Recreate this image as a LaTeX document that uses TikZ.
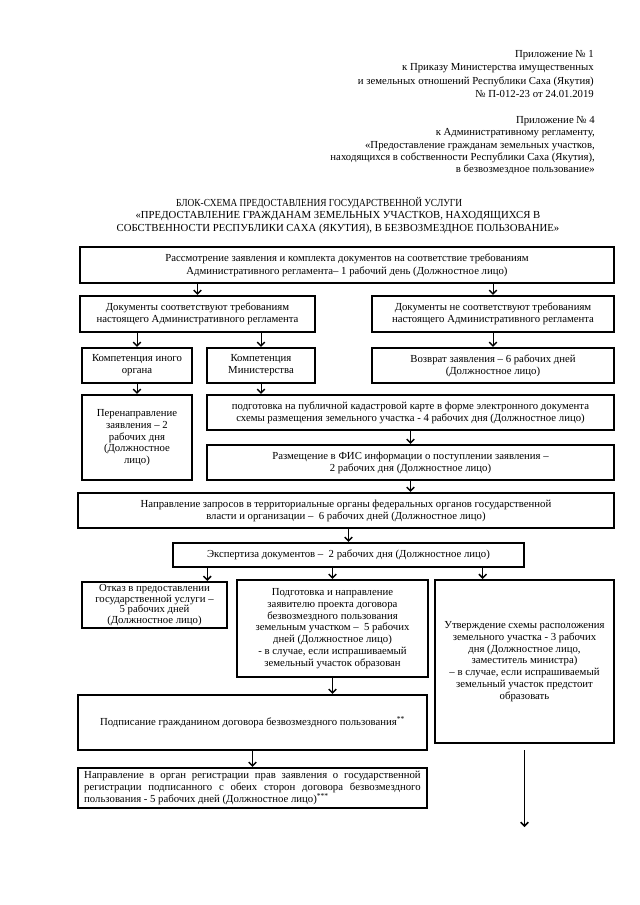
\documentclass[tikz,border=0pt]{standalone}
\usepackage{fontspec}
\usepackage{graphicx}
\setmainfont{Liberation Serif}
\usetikzlibrary{calc, arrows.meta}

\newcommand{\pxu}{0.9301pt}

\tikzset{
    box/.style={draw, line width=1.9pt, align=center, inner sep=2pt},
    arr/.style={line width=0.7pt, -{Straight Barb[length=3.5pt, width=7pt, line width=1.4pt]}}
}

\begin{document}
\begin{tikzpicture}[x=0.9301pt, y=-0.9301pt,
    every node/.style={font=\fontsize{10pt}{11pt}\selectfont}]

    % Page frame (A4 in pixels of the scan)
    \useasboundingbox (0,0) rectangle (640,905);

    % --- Header ---
    \node[align=right, anchor=north east, inner sep=0pt, font=\fontsize{10pt}{12.5pt}\selectfont] (order) at (594,50)
        {Приложение № 1\\ к Приказу Министерства имущественных\\ и земельных отношений Республики Саха (Якутия)\\ № П-012-23 от 24.01.2019};
    \node[align=right, anchor=north east, inner sep=0pt, font=\fontsize{10pt}{11.5pt}\selectfont] (annex) at (595,116)
        {Приложение № 4\\ к Административному регламенту,\\ «Предоставление гражданам земельных участков,\\ находящихся в собственности Республики Саха (Якутия),\\ в безвозмездное пользование»};

    \node[align=center, anchor=north, inner sep=0pt, font=\fontsize{10pt}{11.5pt}\selectfont] (title) at (338,197)
        {\scalebox{0.87}[1]{БЛОК-СХЕМА ПРЕДОСТАВЛЕНИЯ ГОСУДАРСТВЕННОЙ УСЛУГИ}\hspace*{35pt}\\ «ПРЕДОСТАВЛЕНИЕ ГРАЖДАНАМ ЗЕМЕЛЬНЫХ УЧАСТКОВ, НАХОДЯЩИХСЯ В\\ СОБСТВЕННОСТИ РЕСПУБЛИКИ САХА (ЯКУТИЯ), В БЕЗВОЗМЕЗДНОЕ ПОЛЬЗОВАНИЕ»};

    % --- Boxes ---
    \node[box, minimum width=534*\pxu, minimum height=36*\pxu, font=\fontsize{10pt}{12pt}\selectfont] (review) at (347,265)
        {Рассмотрение заявления и комплекта документов на соответствие требованиям\\ Административного регламента– 1 рабочий день (Должностное лицо)};

    \node[box, minimum width=235*\pxu, minimum height=36*\pxu] (conform) at (197.5,314)
        {Документы соответствуют требованиям\\ настоящего Административного регламента};
    \node[box, minimum width=242*\pxu, minimum height=36*\pxu] (nonconf) at (493,314)
        {Документы не соответствуют требованиям\\ настоящего Административного регламента};

    \node[box, minimum width=110*\pxu, minimum height=35*\pxu] (other) at (137,365.5) {Компетенция иного\\ органа};
    \node[box, minimum width=108*\pxu, minimum height=35*\pxu] (ministry) at (261,365.5) {Компетенция\\ Министерства};
    \node[box, minimum width=242*\pxu, minimum height=35*\pxu] (giveback) at (493,365.5)
        {Возврат заявления – 6 рабочих дней\\ (Должностное лицо)};

    \node[box, minimum width=110*\pxu, minimum height=85*\pxu] (redirect) at (137,437.5)
        {\\[-4pt] Перенаправление\\ заявления – 2\\ рабочих дня\\ (Должностное\\ лицо)};
    \node[box, minimum width=407*\pxu, minimum height=35*\pxu] (cadastre) at (410.5,412.5)
        {подготовка на публичной кадастровой карте в форме электронного документа\\ схемы размещения земельного участка - 4 рабочих дня (Должностное лицо)};
    \node[box, minimum width=407*\pxu, minimum height=35*\pxu] (fis) at (410.5,462.5)
        {Размещение в ФИС информации о поступлении заявления –\\ 2 рабочих дня (Должностное лицо)};

    \node[box, minimum width=536*\pxu, minimum height=35*\pxu] (requests) at (346,510.5)
        {Направление запросов в территориальные органы федеральных органов государственной\\ власти и организации –\ \ 6 рабочих дней (Должностное лицо)};

    \node[box, minimum width=351*\pxu, minimum height=24*\pxu] (expert) at (348.5,555)
        {Экспертиза документов –\ \ 2 рабочих дня (Должностное лицо)};

    \node[box, minimum width=145*\pxu, minimum height=46*\pxu, inner sep=1pt, font=\fontsize{10pt}{10pt}\selectfont] (refuse) at (154.5,605)
        {Отказ в предоставлении\\ государственной услуги –\\ 5 рабочих дней\\ (Должностное лицо)};
    \node[box, minimum width=191*\pxu, minimum height=97*\pxu] (draft) at (332.5,628.5)
        {Подготовка и направление\\ заявителю проекта договора\\ безвозмездного пользования\\ земельным участком –\ \ 5 рабочих\\ дней (Должностное лицо)\\ - в случае, если испрашиваемый\\ земельный участок образован};
    \node[box, minimum width=179*\pxu, minimum height=163*\pxu] (approve) at (524.5,661.5)
        {Утверждение схемы расположения\\ земельного участка - 3 рабочих\\ дня (Должностное лицо,\\ заместитель министра)\\ – в случае, если испрашиваемый\\ земельный участок предстоит\\ образовать};

    \node[box, minimum width=349*\pxu, minimum height=55*\pxu] (sign) at (252.5,722.5)
        {Подписание гражданином договора безвозмездного пользования\textsuperscript{**}};
    \node[box, minimum width=349*\pxu, minimum height=40*\pxu, align=left] (register) at (252.5,788)
        {\makebox[313pt][s]{Направление в орган регистрации прав заявления о государственной}\\
         \makebox[313pt][s]{регистрации подписанного с обеих сторон договора безвозмездного}\\
         пользования - 5 рабочих дней (Должностное лицо)\textsuperscript{***}};

    % Points on the lower edge of the expertise box
    \coordinate (e1) at ($(expert.south west)!0.1!(expert.south east)$);
    \coordinate (e3) at ($(expert.south west)!0.88!(expert.south east)$);
    \coordinate (stop) at (524.5,827);

    % --- Arrows ---
    \draw[arr] (conform.north |- review.south) -- (conform.north);
    \draw[arr] (nonconf.north |- review.south) -- (nonconf.north);
    \draw[arr] (other.north |- conform.south) -- (other.north);
    \draw[arr] (ministry.north |- conform.south) -- (ministry.north);
    \draw[arr] (nonconf) -- (giveback);
    \draw[arr] (other) -- (redirect);
    \draw[arr] (ministry.south) -- (ministry.south |- cadastre.north);
    \draw[arr] (cadastre) -- (fis);
    \draw[arr] (fis.south) -- (fis.south |- requests.north);
    \draw[arr] (expert.north |- requests.south) -- (expert.north);
    \draw[arr] (e1) -- (e1 |- refuse.north);
    \draw[arr] (draft.north |- expert.south) -- (draft.north);
    \draw[arr] (e3) -- (e3 |- approve.north);
    \draw[arr] (draft.south) -- (draft.south |- sign.north);
    \draw[arr] (sign) -- (register);
    \draw[arr] ([yshift=-6pt]approve.south) -- (stop);
\end{tikzpicture}
\end{document}
